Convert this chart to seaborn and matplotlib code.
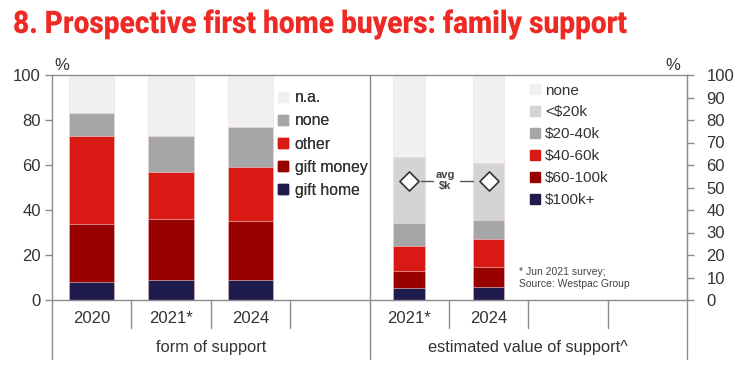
import seaborn as sns
import numpy as np
import matplotlib.pyplot as plt
from matplotlib.lines import Line2D
import matplotlib.transforms as mtransforms
import matplotlib.patheffects as pe

# slots along the x axis (8 equal slots, two panels of 4)
slots = ["2020", "2021*", "2024", "", "2021* ", "2024 ", " ", "  "]

# form of support (%), bottom to top
form_years = ["2020", "2021*", "2024"]
form_labels = ["gift home", "gift money", "other", "none", "n.a."]
gift_home = [8, 9, 9]
gift_money = [26, 27, 26]
other = [39, 21, 24]
none_form = [10, 16, 18]
na = [17, 27, 23]
form_colors = ["#1f1b4d", "#990000", "#d91a14", "#a6a6a6", "#f0f0f0"]

# estimated value of support (%), bottom to top
value_years = ["2021* ", "2024 "]
value_labels = ["$100k+", "$60-100k", "$40-60k", "$20-40k", "<$20k", "none"]
v_100k = [5.5, 5.6]
v_60_100k = [7.2, 9.2]
v_40_60k = [11.3, 12.3]
v_20_40k = [10.2, 8.5]
v_lt20k = [29.4, 25.1]
v_none = [36.4, 39.3]
value_colors = ["#1f1b4d", "#990000", "#d91a14", "#a6a6a6", "#d4d4d4", "#f0f0f0"]

avg_k = [53, 53]

sns.set_style("white")
plt.rcParams["font.family"] = ["Liberation Sans", "DejaVu Sans"]
TXT = "#333333"
GRID = "#8c8c8c"


class Squeeze(pe.AbstractPathEffect):
    """Narrow the glyphs horizontally (condensed look for the title)."""
    def __init__(self, sx):
        super().__init__()
        self.sx = sx

    def draw_path(self, renderer, gc, tpath, affine, rgbFace=None):
        renderer.draw_path(gc, tpath, mtransforms.Affine2D().scale(self.sx, 1) + affine, rgbFace)


fig = plt.figure(figsize=(7.37, 3.69), dpi=100)
ax = fig.add_axes([52 / 737, 1 - 300 / 369, 635 / 737, 225 / 369])


def stack(ax, years, layers, colors, width):
    cum = np.cumsum(np.array(layers, dtype=float), axis=0)
    for i in range(len(layers) - 1, -1, -1):
        sns.barplot(x=years, y=cum[i], order=slots, color=colors[i],
                    saturation=1, width=width, linewidth=0.4,
                    edgecolor="#f4dcdc", ax=ax)


stack(ax, form_years, [gift_home, gift_money, other, none_form, na], form_colors, 0.57)
stack(ax, value_years, [v_100k, v_60_100k, v_40_60k, v_20_40k, v_lt20k, v_none],
      value_colors, 0.4)

ax.set_xlim(-0.5, 7.5)
ax.set_ylim(0, 100)
ax.set_yticks(range(0, 101, 20))
ax.set_xticks([])
ax.set_xlabel("")
ax.set_ylabel("")
ax.tick_params(axis="y", direction="out", length=5, width=1, color=GRID,
               labelsize=12, labelcolor=TXT, pad=3, left=True)
for s in ["top", "left", "right", "bottom"]:
    ax.spines[s].set_visible(True)
    ax.spines[s].set_color(GRID)
    ax.spines[s].set_linewidth(1)

ax2 = ax.twinx()
ax2.set_ylim(0, 100)
ax2.set_yticks(range(0, 101, 10))
ax2.tick_params(axis="y", direction="out", length=5, width=1, color=GRID,
                labelsize=12, labelcolor=TXT, pad=9)
for s in ax2.spines.values():
    s.set_visible(False)
ax2.spines["right"].set_visible(True)
ax2.spines["right"].set_color(GRID)

# average value diamonds
pos = [slots.index(y) for y in value_years]
sns.scatterplot(x=pos, y=avg_k, marker="D", s=95, color="white",
                edgecolor="#333333", linewidth=1.2, zorder=5, ax=ax)
ax.plot([pos[0] + 0.15, pos[0] + 0.3], [avg_k[0]] * 2, color="#555555", lw=1, zorder=4)
ax.plot([pos[1] - 0.36, pos[1] - 0.2], [avg_k[1]] * 2, color="#555555", lw=1, zorder=4)
ax.text((pos[0] + pos[1]) / 2 - 0.05, avg_k[0], "avg\n$k", ha="center", va="center",
        fontsize=8, fontweight="bold", color="#444444", linespacing=1.15)

# category axis labels and dividers
tr = mtransforms.blended_transform_factory(ax.transData, ax.transAxes)
for i, lab in enumerate(slots):
    if lab.strip():
        ax.text(i, -0.084, lab.strip(), transform=tr, ha="center", va="center",
                fontsize=12, color=TXT)
for b in [0.5, 1.5, 2.5, 4.5, 5.5, 6.5]:
    ax.plot([b, b], [0, -0.125], transform=tr, color=GRID, lw=1, clip_on=False)
for b in [-0.5, 3.5, 7.5]:
    ax.plot([b, b], [0 if b != 3.5 else 1, -0.26], transform=tr, color=GRID,
            lw=1, clip_on=False)
ax.text(1.5, -0.213, "form of support", transform=tr, ha="center", va="center",
        fontsize=11.8, color=TXT)
ax.text(5.5, -0.213, "estimated value of support^", transform=tr, ha="center",
        va="center", fontsize=11.8, color=TXT)


# legends
def handles(labels, colors):
    return [Line2D([], [], marker="s", linestyle="", markersize=7.5,
                   markerfacecolor=c, markeredgecolor=c, label=l)
            for l, c in zip(labels, colors)]


leg1 = ax.legend(handles=handles(form_labels[::-1], form_colors[::-1]),
                 loc="upper left", bbox_to_anchor=(0.355, 0.932), frameon=False,
                 fontsize=11.3, labelspacing=0.52, handlelength=0.7,
                 handletextpad=0.4, borderpad=0, borderaxespad=0,
                 labelcolor=TXT)
ax.add_artist(leg1)
ax2.legend(handles=handles(value_labels[::-1], value_colors[::-1]),
           loc="upper left", bbox_to_anchor=(0.752, 0.962), frameon=False,
           fontsize=11, labelspacing=0.52, handlelength=0.7,
           handletextpad=0.3, borderpad=0, borderaxespad=0, labelcolor=TXT)

ax.text(0.735, 0.098, "* Jun 2021 survey;\nSource: Westpac Group",
        transform=ax.transAxes, ha="left", va="center", fontsize=7.5,
        color="#444444", linespacing=1.25)

# percent signs and title
fig.text(62 / 737, 1 - 66 / 369, "%", ha="center", va="center", fontsize=12, color=TXT)
fig.text(673 / 737, 1 - 66 / 369, "%", ha="center", va="center", fontsize=12, color=TXT)
title = fig.text(13 / 737, 1 - 33 / 369, "8. Prospective first home buyers: family support",
                 ha="left", va="baseline", fontsize=22.5, fontweight="heavy",
                 color="#ee2a24", family=["Roboto", "Liberation Sans", "DejaVu Sans"])
fig.canvas.draw()
w = title.get_window_extent().width
title.set_path_effects([Squeeze(614 / w)])

fig.savefig("out.png", dpi=100)
